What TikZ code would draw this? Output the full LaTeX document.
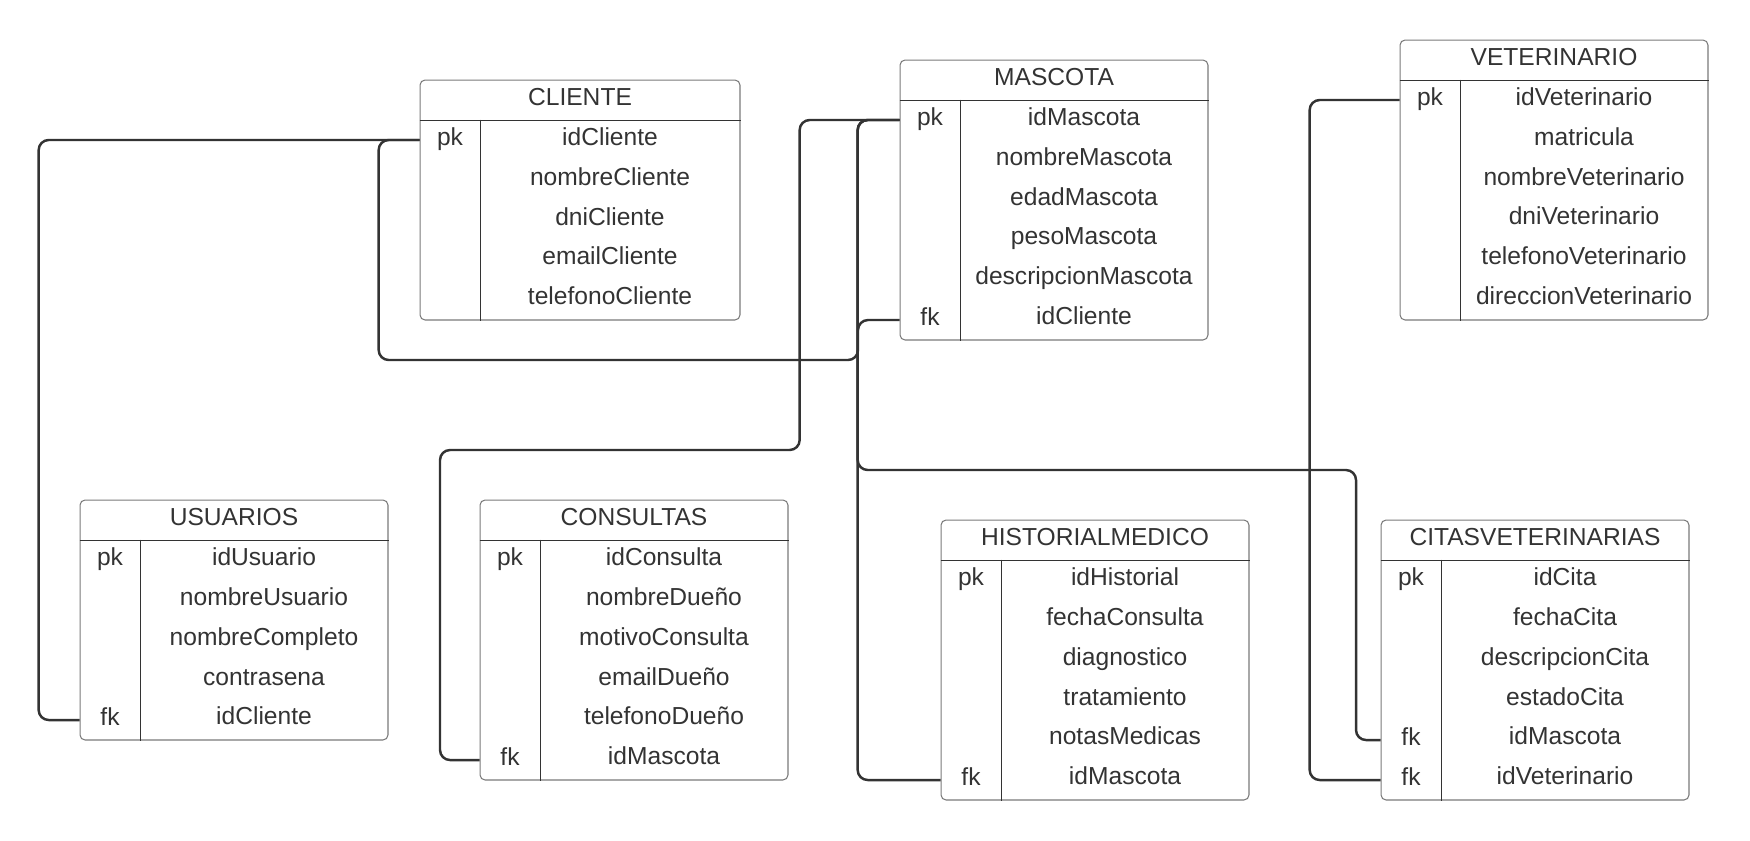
\documentclass[tikz,border=0pt]{standalone}
\usepackage{fontspec}
\setmainfont{Liberation Sans}
\usepackage{tikz}
\usetikzlibrary{positioning}
\definecolor{inkgray}{HTML}{333333}
\definecolor{framegray}{HTML}{7A7A7A}
\tikzset{
    on grid,
    node distance=0.8cm,
    entity/.style = {
        draw=framegray,
        shape=rectangle,
        rounded corners=0.1cm,
        line width=0.6pt,
        inner sep=0pt
    },
    enthead/.style = {
        shape=rectangle,
        minimum height=0.8cm,
        inner sep=0pt,
        text=inkgray,
        text height=9.7pt,
        text depth=4pt,
        font=\fontsize{14}{16}\selectfont
    },
    attr/.style = {
        shape=rectangle,
        minimum height=0.8cm,
        inner sep=0pt,
        text=inkgray,
        text height=9.7pt,
        text depth=4pt,
        font=\fontsize{14}{16}\selectfont
    },
    keycell/.style = {
        attr,
        minimum width=1.2cm
    },
    sep/.style = {
        draw=inkgray,
        line width=0.6pt
    },
    rel/.style = {
        draw=inkgray,
        line width=1.4pt,
        rounded corners=0.2cm
    },
}

\begin{document}
\begin{tikzpicture}[x=0.02cm, y=-0.02cm]
                \useasboundingbox (0,0) rectangle (1750,840);

                % CLIENTE
                \node[entity, minimum width=6.4cm, minimum height=4.8cm] (cli) at (580,200) {};
                \node[enthead] (cli-h) at (580,100) {CLIENTE};
                \node[keycell] (cli-pk) at (450,140) {pk};
                \node[attr] (cli-1) at (610,140) {idCliente};
                \node[attr, below=of cli-1] (cli-2) {nombreCliente};
                \node[attr, below=of cli-2] (cli-3) {dniCliente};
                \node[attr, below=of cli-3] (cli-4) {emailCliente};
                \node[attr, below=of cli-4] (cli-5) {telefonoCliente};
                \path[sep] (cli.west |- cli-h.south) -- (cli.east |- cli-h.south);
                \path[sep] (cli-pk.north east) -- (cli-pk.east |- cli.south);

                % MASCOTA
                \node[entity, minimum width=6.16cm, minimum height=5.6cm] (mas) at (1054,200) {};
                \node[enthead] (mas-h) at (1054,80) {MASCOTA};
                \node[keycell] (mas-pk) at (930,120) {pk};
                \node[keycell] (mas-fk) at (930,320) {fk};
                \node[attr] (mas-1) at (1084,120) {idMascota};
                \node[attr, below=of mas-1] (mas-2) {nombreMascota};
                \node[attr, below=of mas-2] (mas-3) {edadMascota};
                \node[attr, below=of mas-3] (mas-4) {pesoMascota};
                \node[attr, below=of mas-4] (mas-5) {descripcionMascota};
                \node[attr, below=of mas-5] (mas-6) {idCliente};
                \path[sep] (mas.west |- mas-h.south) -- (mas.east |- mas-h.south);
                \path[sep] (mas-pk.north east) -- (mas-pk.east |- mas.south);

                % VETERINARIO
                \node[entity, minimum width=6.16cm, minimum height=5.6cm] (vet) at (1554,180) {};
                \node[enthead] (vet-h) at (1554,60) {VETERINARIO};
                \node[keycell] (vet-pk) at (1430,100) {pk};
                \node[attr] (vet-1) at (1584,100) {idVeterinario};
                \node[attr, below=of vet-1] (vet-2) {matricula};
                \node[attr, below=of vet-2] (vet-3) {nombreVeterinario};
                \node[attr, below=of vet-3] (vet-4) {dniVeterinario};
                \node[attr, below=of vet-4] (vet-5) {telefonoVeterinario};
                \node[attr, below=of vet-5] (vet-6) {direccionVeterinario};
                \path[sep] (vet.west |- vet-h.south) -- (vet.east |- vet-h.south);
                \path[sep] (vet-pk.north east) -- (vet-pk.east |- vet.south);

                % USUARIOS
                \node[entity, minimum width=6.16cm, minimum height=4.8cm] (usu) at (234,620) {};
                \node[enthead] (usu-h) at (234,520) {USUARIOS};
                \node[keycell] (usu-pk) at (110,560) {pk};
                \node[keycell] (usu-fk) at (110,720) {fk};
                \node[attr] (usu-1) at (264,560) {idUsuario};
                \node[attr, below=of usu-1] (usu-2) {nombreUsuario};
                \node[attr, below=of usu-2] (usu-3) {nombreCompleto};
                \node[attr, below=of usu-3] (usu-4) {contrasena};
                \node[attr, below=of usu-4] (usu-5) {idCliente};
                \path[sep] (usu.west |- usu-h.south) -- (usu.east |- usu-h.south);
                \path[sep] (usu-pk.north east) -- (usu-pk.east |- usu.south);

                % CONSULTAS
                \node[entity, minimum width=6.16cm, minimum height=5.6cm] (con) at (634,640) {};
                \node[enthead] (con-h) at (634,520) {CONSULTAS};
                \node[keycell] (con-pk) at (510,560) {pk};
                \node[keycell] (con-fk) at (510,760) {fk};
                \node[attr] (con-1) at (664,560) {idConsulta};
                \node[attr, below=of con-1] (con-2) {nombreDueño};
                \node[attr, below=of con-2] (con-3) {motivoConsulta};
                \node[attr, below=of con-3] (con-4) {emailDueño};
                \node[attr, below=of con-4] (con-5) {telefonoDueño};
                \node[attr, below=of con-5] (con-6) {idMascota};
                \path[sep] (con.west |- con-h.south) -- (con.east |- con-h.south);
                \path[sep] (con-pk.north east) -- (con-pk.east |- con.south);

                % HISTORIALMEDICO
                \node[entity, minimum width=6.16cm, minimum height=5.6cm] (his) at (1095,660) {};
                \node[enthead] (his-h) at (1095,540) {HISTORIALMEDICO};
                \node[keycell] (his-pk) at (971,580) {pk};
                \node[keycell] (his-fk) at (971,780) {fk};
                \node[attr] (his-1) at (1125,580) {idHistorial};
                \node[attr, below=of his-1] (his-2) {fechaConsulta};
                \node[attr, below=of his-2] (his-3) {diagnostico};
                \node[attr, below=of his-3] (his-4) {tratamiento};
                \node[attr, below=of his-4] (his-5) {notasMedicas};
                \node[attr, below=of his-5] (his-6) {idMascota};
                \path[sep] (his.west |- his-h.south) -- (his.east |- his-h.south);
                \path[sep] (his-pk.north east) -- (his-pk.east |- his.south);

                % CITASVETERINARIAS
                \node[entity, minimum width=6.16cm, minimum height=5.6cm] (cit) at (1535,660) {};
                \node[enthead] (cit-h) at (1535,540) {CITASVETERINARIAS};
                \node[keycell] (cit-pk) at (1411,580) {pk};
                \node[keycell] (cit-fkm) at (1411,740) {fk};
                \node[keycell] (cit-fkv) at (1411,780) {fk};
                \node[attr] (cit-1) at (1565,580) {idCita};
                \node[attr, below=of cit-1] (cit-2) {fechaCita};
                \node[attr, below=of cit-2] (cit-3) {descripcionCita};
                \node[attr, below=of cit-3] (cit-4) {estadoCita};
                \node[attr, below=of cit-4] (cit-5) {idMascota};
                \node[attr, below=of cit-5] (cit-6) {idVeterinario};
                \path[sep] (cit.west |- cit-h.south) -- (cit.east |- cit-h.south);
                \path[sep] (cit-pk.north east) -- (cit-pk.east |- cit.south);

                % relations
                \path[rel] (cli-pk.west) -- ++(-381,0) |- (usu-fk.west);
                \path[rel] (cli-pk.west) -- ++(-41,0) |- (858,360) |- (mas-fk.west);
                \path[rel] (mas-pk.west) -- ++(-100,0) |- (440,450) |- (con-fk.west);
                \path[rel] (mas-pk.west) -- ++(-42,0) |- (his-fk.west);
                \path[rel] (mas-pk.west) -- ++(-42,0) |- (1356,470) |- (cit-fkm.west);
                \path[rel] (vet-pk.west) -- ++(-90,0) |- (cit-fkv.west);
            \end{tikzpicture}
\end{document}
